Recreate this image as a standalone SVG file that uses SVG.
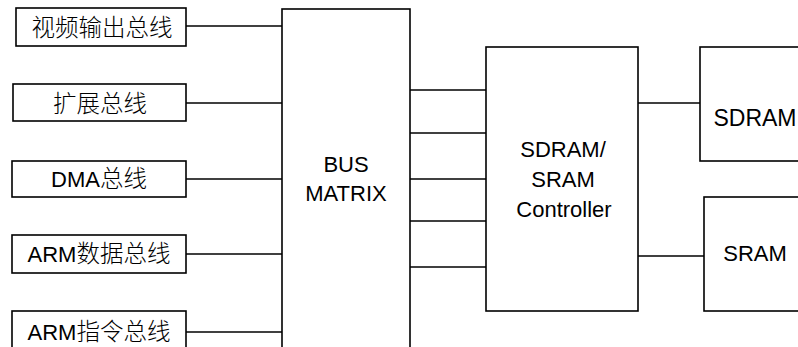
<svg xmlns="http://www.w3.org/2000/svg" width="798" height="347" viewBox="0 0 798 347">
<style>
.box{fill:#fff;stroke:#000;stroke-width:1.6}
.ln{stroke:#000;stroke-width:1.6;fill:none}
text{font-family:"Liberation Sans","Noto Sans CJK SC",Arial,sans-serif;font-size:22px;fill:#000;text-anchor:middle}
.cjk{font-size:23.5px;font-weight:300}
</style>
<rect width="798" height="347" fill="#fff"/>
<g id="connectors">
<line class="ln" x1="186" y1="26" x2="282" y2="26"/>
<line class="ln" x1="186" y1="103" x2="282" y2="103"/>
<line class="ln" x1="186" y1="179" x2="282" y2="179"/>
<line class="ln" x1="186" y1="254" x2="282" y2="254"/>
<line class="ln" x1="186" y1="332" x2="282" y2="332"/>
<line class="ln" x1="410" y1="90" x2="486" y2="90"/>
<line class="ln" x1="410" y1="133" x2="486" y2="133"/>
<line class="ln" x1="410" y1="179" x2="486" y2="179"/>
<line class="ln" x1="410" y1="221" x2="486" y2="221"/>
<line class="ln" x1="410" y1="267" x2="486" y2="267"/>
<line class="ln" x1="638" y1="103" x2="700" y2="103"/>
<line class="ln" x1="638" y1="256" x2="704" y2="256"/>
</g>
<g id="video-bus">
<rect class="box" x="16" y="8" width="170" height="38"/>
<text x="102" y="36"><tspan class="cjk">视频输出总线</tspan></text>
</g>
<g id="ext-bus">
<rect class="box" x="13" y="84" width="173" height="37"/>
<text x="100" y="112"><tspan class="cjk">扩展总线</tspan></text>
</g>
<g id="dma-bus">
<rect class="box" x="12" y="161" width="174" height="36"/>
<text x="99" y="187">DMA<tspan class="cjk">总线</tspan></text>
</g>
<g id="arm-data-bus">
<rect class="box" x="12" y="235" width="174" height="38"/>
<text x="99" y="262">ARM<tspan class="cjk">数据总线</tspan></text>
</g>
<g id="arm-inst-bus">
<rect class="box" x="12" y="311" width="174" height="50"/>
<text x="99" y="340">ARM<tspan class="cjk">指令总线</tspan></text>
</g>
<g id="bus-matrix">
<rect class="box" x="282" y="9" width="128" height="360"/>
<text x="346" y="172">BUS</text>
<text x="346" y="201">MATRIX</text>
</g>
<g id="controller">
<rect class="box" x="486" y="47" width="152" height="264"/>
<text x="563" y="157">SDRAM/</text>
<text x="563" y="187">SRAM</text>
<text x="564" y="217">Controller</text>
</g>
<g id="sdram">
<rect class="box" x="700" y="47" width="120" height="114"/>
<text x="755" y="126" style="font-size:23px">SDRAM</text>
</g>
<g id="sram">
<rect class="box" x="704" y="197" width="120" height="114"/>
<text x="755" y="261">SRAM</text>
</g>
</svg>
